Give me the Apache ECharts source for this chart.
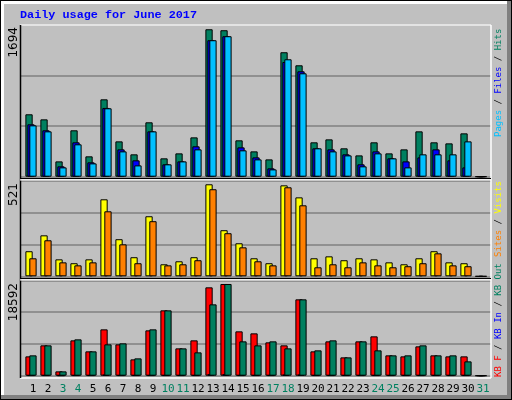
<!DOCTYPE html>
<html><head><meta charset="utf-8">
<script src="https://cdn.jsdelivr.net/npm/echarts@6/dist/echarts.min.js"></script>
<style>html,body{margin:0;padding:0;background:#c0c0c0}#c{width:512px;height:400px}</style>
</head><body><div id="c"></div>
<script>
const days = Array.from({length:31},(_,i)=>String(i+1));
const weekendDays = [3,4,10,11,17,18,24,25,31];
const hits  = [717,659,176,533,234,889,406,257,625,211,268,452,1694,1683,418,291,199,1430,1280,395,429,326,245,395,268,314,521,395,383,498,0];
const files = [602,533,119,395,165,790,314,188,521,142,176,349,1568,1614,337,222,96,1318,1211,326,314,257,142,291,211,176,222,314,188,107,0];
const pages = [590,521,107,372,153,786,291,130,521,142,176,314,1568,1614,303,199,84,1349,1188,326,291,245,119,268,211,107,257,257,257,406,0];
const visits= [142,232,96,74,96,436,210,108,340,68,85,108,521,261,187,102,74,515,447,102,113,91,102,96,79,68,102,142,79,74,0];
const sites = [102,204,79,62,79,368,181,74,312,62,68,91,493,244,164,85,62,504,402,51,68,51,79,62,51,57,74,130,62,57,0];
const kbF   = [3921,6152,879,7166,4935,9396,6355,3312,9194,13250,5543,7166,17915,18592,8991,8586,6760,6152,15481,4935,6963,3718,6963,7977,4124,3921,5949,4124,3921,3921,0];
const kbIn  = [60,60,30,60,60,200,60,60,60,60,60,60,300,300,60,60,60,200,200,60,60,60,60,60,60,60,60,60,60,60,0];
const kbOut = [4124,6152,879,7368,4935,6355,6557,3515,9396,13250,5543,4732,14467,18592,6963,6152,6963,5543,15481,5138,7166,3718,6963,5138,4124,4124,6152,4124,4124,2907,0];
const yMaxLabels = ['1694','521','18592'];

const pts = a => a.map((v,i)=>[i+1,v]);
const grids = [
  {left:20,width:471,top:25,height:151.7},
  {left:20,width:471,top:180.3,height:96},
  {left:20,width:471,top:280.3,height:95.4},
  {left:25.5,width:465,top:377,height:1}
];
const maxes=[1743,543.6,19342];
const xAxes = [0,1,2].map(g=>({type:'value',gridIndex:g,min:0.2667,max:31.667,show:false}));
xAxes.push({type:'category',gridIndex:3,data:days,axisLine:{show:false},axisTick:{show:false},
  axisLabel:{margin:6,interval:0,fontFamily:'DejaVu Sans Mono',fontSize:11,
   color:(v)=>weekendDays.includes(+v)?'#008060':'#000'}});
const yAxes = [0,1,2].map(g=>({type:'value',gridIndex:g,min:0,max:maxes[g],interval:maxes[g]/3,
  axisLabel:{show:false},axisLine:{show:false},axisTick:{show:false},
  splitLine:{show:true,lineStyle:{color:'#808080',width:1.5}}}));
yAxes.push({type:'value',gridIndex:3,show:false});
function bar(g,data,color,vis=true){
  return {type:'bar',xAxisIndex:g,yAxisIndex:g,data:pts(data),barWidth:7.3,barGap:'-73%',
    silent:true,animation:false,
    itemStyle:{color:color,borderColor:'#000',borderWidth:vis?1:0,opacity:vis?1:0}};
}
const series=[
  bar(0,hits,'#008060'),bar(0,files,'#0000ff'),bar(0,pages,'#00c0ff'),
  bar(1,visits,'#ffff00'),bar(1,visits,'#000',false),bar(1,sites,'#ff8000'),
  bar(2,kbF,'#ff0000'),bar(2,kbIn,'#0000ff'),bar(2,kbOut,'#008060'),
  {type:'bar',xAxisIndex:3,yAxisIndex:3,data:[]}
];
const mono='DejaVu Sans Mono';
function vtext(x,y,rich,str){
  return {type:'text',x:x,y:y,rotation:Math.PI/2,style:{text:str,rich:rich,align:'left',verticalAlign:'middle',fontFamily:mono,fontSize:9,fill:'#000'},z:10};
}
const rs=(c)=>({fill:c,fontFamily:mono,fontSize:9});
const graphic=[
  {type:'rect',shape:{x:0,y:0,width:512,height:400},style:{fill:'#000'},z:-10},
  {type:'rect',shape:{x:1,y:1,width:510,height:398},style:{fill:'#808080'},z:-9},
  {type:'rect',shape:{x:1,y:1,width:506,height:394},style:{fill:'#ffffff'},z:-8},
  {type:'rect',shape:{x:4,y:4,width:503,height:391},style:{fill:'#c0c0c0'},z:-7},
  {type:'line',shape:{x1:20,y1:25,x2:491,y2:25},style:{stroke:'#fff',lineWidth:1.5},z:5},
  {type:'line',shape:{x1:491,y1:25,x2:491,y2:378},style:{stroke:'#fff',lineWidth:1.5},z:5},
  {type:'line',shape:{x1:20,y1:378,x2:491,y2:378},style:{stroke:'#fff',lineWidth:1.5},z:5},
  {type:'line',shape:{x1:20.5,y1:25,x2:20.5,y2:378},style:{stroke:'#000',lineWidth:1.5},z:5},
  {type:'line',shape:{x1:20,y1:178.5,x2:491,y2:178.5},style:{stroke:'#000',lineWidth:1},z:5},
  {type:'line',shape:{x1:20,y1:179.8,x2:491,y2:179.8},style:{stroke:'#fff',lineWidth:1.2},z:5},
  {type:'line',shape:{x1:20,y1:278.5,x2:491,y2:278.5},style:{stroke:'#000',lineWidth:1},z:5},
  {type:'line',shape:{x1:20,y1:279.8,x2:491,y2:279.8},style:{stroke:'#fff',lineWidth:1.2},z:5},
  {type:'text',x:20,y:15,style:{text:'Daily usage for June 2017',fill:'#0000ff',fontFamily:'Liberation Mono',fontWeight:'bold',fontSize:11.8,verticalAlign:'middle'},z:10},
  {type:'text',x:14,y:27,rotation:Math.PI/2,style:{text:yMaxLabels[0],align:'right',verticalAlign:'middle',fontFamily:'DejaVu Sans',fontSize:12,fill:'#000'}},
  {type:'text',x:14,y:183,rotation:Math.PI/2,style:{text:yMaxLabels[1],align:'right',verticalAlign:'middle',fontFamily:'DejaVu Sans',fontSize:12,fill:'#000'}},
  {type:'text',x:14,y:283,rotation:Math.PI/2,style:{text:yMaxLabels[2],align:'right',verticalAlign:'middle',fontFamily:'DejaVu Sans',fontSize:12,fill:'#000'}},
  vtext(499,137,{p:rs('#00c0ff'),f:rs('#0000ff'),h:rs('#008060')},'{p|Pages} / {f|Files} / {h|Hits}'),
  vtext(499,257,{s:rs('#ff8000'),v:rs('#ffff00')},'{s|Sites} / {v|Visits}'),
  vtext(499,377,{a:rs('#ff0000'),b:rs('#0000ff'),c:rs('#008060')},'{a|KB F} / {b|KB In} / {c|KB Out}')
];
const chart=echarts.init(document.getElementById('c'));
chart.setOption({animation:false,backgroundColor:'transparent',grid:grids,xAxis:xAxes,yAxis:yAxes,series:series,graphic:graphic});
</script></body></html>
